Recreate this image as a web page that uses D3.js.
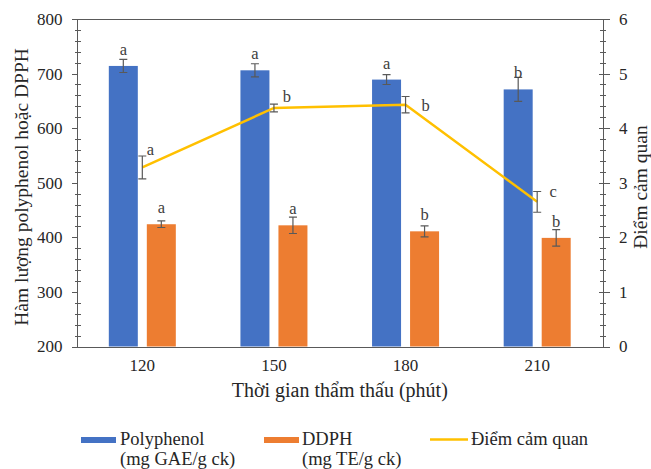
<!DOCTYPE html>
<html>
<head>
<meta charset="utf-8" />
<title>Polyphenol, DPPH và điểm cảm quan</title>
<script src="https://cdn.jsdelivr.net/npm/d3@7"></script>
<style>
	body { margin: 0; background: #fff; }
	#chart { width: 651px; height: 469px; }
	svg text { font-family: "Liberation Serif", "Times New Roman", serif; fill: #262626; }
	.axis path, .axis line { stroke: #595959; stroke-width: 1px; shape-rendering: crispEdges; }
	.axis text { font-size: 17px; }
	.err { stroke: #595959; stroke-width: 1.2px; fill: none; }
	.sig { font-size: 16.5px; text-anchor: middle; fill: #404040; }
</style>
</head>
<body>
<div id="chart"></div>

<script>
// data
var times = ["120", "150", "180", "210"];
var polyphenol = [714, 706, 689, 671];
var polyphenolErr = [12, 12, 9, 22];
var polyphenolSig = ["a", "a", "a", "b"];
var dpph = [424, 422, 411, 399];
var dpphErr = [6, 15, 10, 15];
var dpphSig = ["a", "a", "b", "b"];
var sensory = [3.28, 4.37, 4.43, 2.65];
var sensoryErr = [0.21, 0.07, 0.15, 0.19];
var sensorySig = ["a", "b", "b", "c"];
var leftTicks = [200, 300, 400, 500, 600, 700, 800];
var rightTicks = [0, 1, 2, 3, 4, 5, 6];

var width = 651, height = 469;
var margin = {top: 19, right: 48, bottom: 122.5, left: 76.5};
var serif = "'Liberation Serif', 'Times New Roman', serif";

var svg = d3.select("#chart").append("svg")
	.attr("width", width)
	.attr("height", height)
	.attr("font-family", serif);

var x = d3.scaleBand().domain(times).range([margin.left, width - margin.right]);
var xi = d3.scaleBand().domain(["poly", "dpph"]).range([0, x.bandwidth()])
	.paddingInner(0.237).paddingOuter(0.85);
var y = d3.scaleLinear().domain([200, 800]).range([height - margin.bottom, margin.top]);
var y2 = d3.scaleLinear().domain([0, 6]).range([height - margin.bottom, margin.top]);

// top border of plot area
svg.append("line")
	.attr("x1", margin.left).attr("x2", width - margin.right)
	.attr("y1", margin.top + 0.5).attr("y2", margin.top + 0.5)
	.attr("stroke", "#595959");

// bars
var series = [
	{key: "poly", vals: polyphenol, err: polyphenolErr, sig: polyphenolSig, color: "#4472C4"},
	{key: "dpph", vals: dpph, err: dpphErr, sig: dpphSig, color: "#ED7D31"}
];

function errPath(c, t, b) {
	return "M" + (c - 4) + "," + t + "H" + (c + 4) + "M" + c + "," + t + "V" + b + "M" + (c - 4) + "," + b + "H" + (c + 4);
}

series.forEach(function(s) {
	var g = svg.append("g");
	g.selectAll("rect")
		.data(s.vals)
	  .enter().append("rect")
		.attr("x", function(d, i) { return x(times[i]) + xi(s.key); })
		.attr("y", function(d) { return y(d); })
		.attr("width", xi.bandwidth())
		.attr("height", function(d) { return y(200) - y(d); })
		.attr("fill", s.color);

	var cx = function(i) { return x(times[i]) + xi(s.key) + xi.bandwidth() / 2; };
	g.selectAll("path.err")
		.data(s.vals)
	  .enter().append("path")
		.attr("class", "err")
		.attr("d", function(d, i) { return errPath(cx(i), y(d + s.err[i]), y(d - s.err[i])); });
	g.selectAll("text")
		.data(s.vals)
	  .enter().append("text")
		.attr("class", "sig")
		.attr("x", function(d, i) { return cx(i); })
		.attr("y", function(d) { return y(d) - 11; })
		.text(function(d, i) { return s.sig[i]; });
});

// axes
var yAxis = svg.append("g")
	.attr("class", "axis")
	.attr("transform", "translate(" + margin.left + ",0)")
	.call(d3.axisLeft(y).tickValues(leftTicks).tickSize(5).tickPadding(9));
yAxis.attr("font-family", serif).attr("font-size", 17);
yAxis.selectAll(".domain").attr("d", "M0.5," + y(200) + "V" + y(800));
yAxis.selectAll(".minor")
	.data(d3.range(220, 800, 20).filter(function(v) { return v % 100 !== 0; }))
  .enter().append("line")
	.attr("class", "minor")
	.attr("x1", -2).attr("x2", 4)
	.attr("y1", function(d) { return Math.round(y(d)) + 0.5; })
	.attr("y2", function(d) { return Math.round(y(d)) + 0.5; });

var y2Axis = svg.append("g")
	.attr("class", "axis")
	.attr("transform", "translate(" + (width - margin.right) + ",0)")
	.call(d3.axisRight(y2).tickValues(rightTicks).tickFormat(d3.format("d")).tickSize(7).tickPadding(9));
y2Axis.attr("font-family", serif).attr("font-size", 17);
y2Axis.selectAll(".domain").attr("d", "M0.5," + y2(0) + "V" + y2(6));
y2Axis.selectAll(".tick line").attr("x1", -4);
y2Axis.selectAll(".minor")
	.data(d3.range(0.2, 6, 0.2).filter(function(v) { return Math.abs(v - Math.round(v)) > 0.01; }))
  .enter().append("line")
	.attr("class", "minor")
	.attr("x1", -3).attr("x2", 3)
	.attr("y1", function(d) { return Math.round(y2(d)) + 0.5; })
	.attr("y2", function(d) { return Math.round(y2(d)) + 0.5; });

var xAxis = svg.append("g")
	.attr("class", "axis")
	.attr("transform", "translate(0," + (height - margin.bottom) + ")")
	.call(d3.axisBottom(x).tickSize(0).tickPadding(12));
xAxis.attr("font-family", serif).attr("font-size", 17);
xAxis.selectAll(".domain").attr("d", "M" + margin.left + ",0.5H" + (width - margin.right));

// sensory score line
var line = d3.line()
	.x(function(d, i) { return x(times[i]) + x.bandwidth() / 2; })
	.y(function(d) { return y2(d); });

svg.append("path")
	.datum(sensory)
	.attr("fill", "none")
	.attr("stroke", "#FFC000")
	.attr("stroke-width", 2.5)
	.attr("d", line);

svg.selectAll("path.serr")
	.data(sensory)
  .enter().append("path")
	.attr("class", "err serr")
	.attr("d", function(d, i) {
		var c = x(times[i]) + x.bandwidth() / 2;
		return errPath(c, y2(d + sensoryErr[i]), y2(d - sensoryErr[i]));
	});

// label nudges (layout only)
var nudge = [[8, -12], [13, -6], [20, 6], [16, -5]];
svg.selectAll("text.lsig")
	.data(sensory)
  .enter().append("text")
	.attr("class", "sig lsig")
	.attr("x", function(d, i) { return x(times[i]) + x.bandwidth() / 2 + nudge[i][0]; })
	.attr("y", function(d, i) { return y2(d) + nudge[i][1]; })
	.text(function(d, i) { return sensorySig[i]; });

// axis titles
svg.append("text")
	.attr("transform", "translate(28,187) rotate(-90)")
	.attr("text-anchor", "middle")
	.style("font-size", "19.5px")
	.text("Hàm lượng polyphenol hoặc DPPH");

svg.append("text")
	.attr("transform", "translate(647,187) rotate(-90)")
	.attr("text-anchor", "middle")
	.style("font-size", "19.5px")
	.text("Điểm cảm quan");

svg.append("text")
	.attr("x", (margin.left + width - margin.right) / 2)
	.attr("y", 397)
	.attr("text-anchor", "middle")
	.style("font-size", "20px")
	.text("Thời gian thẩm thấu (phút)");

// legend
var legend = svg.append("g").style("font-size", "18.5px");
legend.append("rect").attr("x", 81).attr("y", 437).attr("width", 35).attr("height", 6).attr("fill", "#4472C4");
legend.append("text").attr("x", 120).attr("y", 445).text("Polyphenol");
legend.append("text").attr("x", 120).attr("y", 465).text("(mg GAE/g ck)");
legend.append("rect").attr("x", 264).attr("y", 437).attr("width", 35).attr("height", 6).attr("fill", "#ED7D31");
legend.append("text").attr("x", 302).attr("y", 445).text("DDPH");
legend.append("text").attr("x", 302).attr("y", 465).text("(mg TE/g ck)");
legend.append("line").attr("x1", 430).attr("x2", 468).attr("y1", 439.5).attr("y2", 439.5)
	.attr("stroke", "#FFC000").attr("stroke-width", 2.5);
legend.append("text").attr("x", 471).attr("y", 445).text("Điểm cảm quan");
</script>
</body>
</html>
